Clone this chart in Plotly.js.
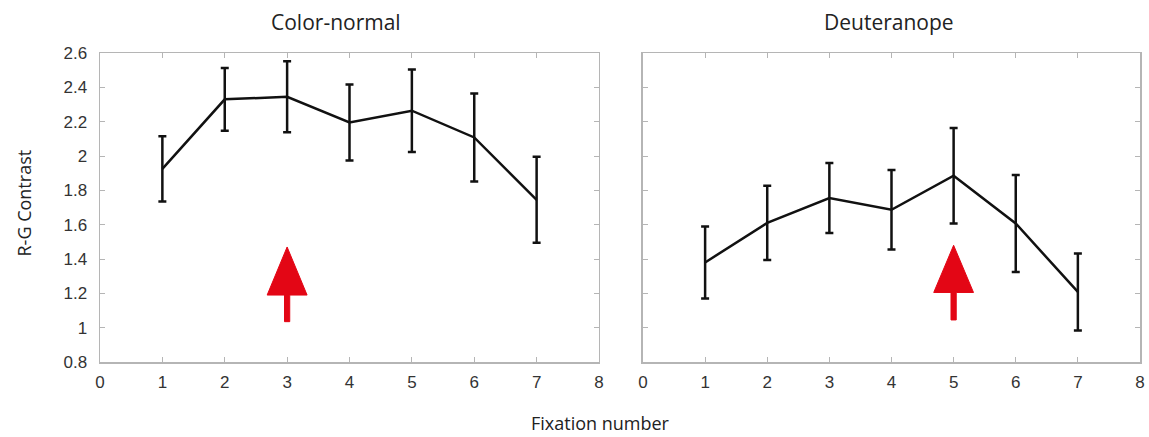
<!DOCTYPE html>
<html>
<head>
<meta charset="utf-8">
<script src="https://cdn.plot.ly/plotly-3.0.1.min.js"></script>
<style>
  html, body { margin: 0; padding: 0; background: #fff; }
  #chart { width: 1149px; height: 437px; }
</style>
</head>
<body>
<div id="chart"></div>
<script>
// Fixation index shared by both panels
const fixation = [1, 2, 3, 4, 5, 6, 7];

// Mean R-G contrast and error-bar half-lengths per fixation
const normalMean = [1.925, 2.33, 2.345, 2.195, 2.264, 2.108, 1.745];
const normalErr  = [0.19, 0.183, 0.207, 0.221, 0.24, 0.256, 0.25];
const deutMean   = [1.38, 1.61, 1.755, 1.687, 1.885, 1.607, 1.208];
const deutErr    = [0.21, 0.216, 0.204, 0.231, 0.278, 0.283, 0.224];

// Panel titles and axis labels
const panelTitles = ["Color-normal", "Deuteranope"];
const xLabel = "Fixation number";
const yLabel = "R-G Contrast";

// Tick values
const xTicks = [0, 1, 2, 3, 4, 5, 6, 7, 8];
const yTicks = [0.8, 1, 1.2, 1.4, 1.6, 1.8, 2, 2.2, 2.4, 2.6];

// Highlighted fixation in each panel (upward arrow), in data units
const arrowX    = [3, 5];
const arrowTip  = [1.47, 1.48];
const arrowNeck = [1.19, 1.205];
const arrowTail = [1.035, 1.045];
const arrowHeadHalf  = 0.32;   // half-width of the head, x units
const arrowShaftHalf = 0.042;  // half-width of the shaft, x units

const red = "#e30615";
const frameGrey = "#b5b5b5";

function seriesTrace(mean, err, xa, ya) {
  return {
    x: fixation, y: mean, xaxis: xa, yaxis: ya,
    type: "scatter", mode: "lines",
    line: { color: "#111", width: 2.5 },
    error_y: { type: "data", array: err, visible: true,
               color: "#111", thickness: 2.5, width: 4 },
    hoverinfo: "x+y", showlegend: false
  };
}

function arrowTrace(i, xa, ya) {
  const c = arrowX[i];
  const h = arrowHeadHalf, s = arrowShaftHalf;
  return {
    x: [c, c + h, c + s, c + s, c - s, c - s, c - h, c],
    y: [arrowTip[i], arrowNeck[i], arrowNeck[i], arrowTail[i],
        arrowTail[i], arrowNeck[i], arrowNeck[i], arrowTip[i]],
    xaxis: xa, yaxis: ya, type: "scatter", mode: "lines",
    fill: "toself", fillcolor: red, line: { color: red, width: 1 },
    hoverinfo: "skip", showlegend: false
  };
}

const data = [
  seriesTrace(normalMean, normalErr, "x", "y"),
  seriesTrace(deutMean, deutErr, "x2", "y2"),
  arrowTrace(0, "x", "y"),
  arrowTrace(1, "x2", "y2")
];

const tickFont = { family: "Liberation Sans, Arial, sans-serif", size: 17, color: "#333" };

function xAxis(domain, anchor) {
  return {
    domain: domain, anchor: anchor, range: [0, 8],
    tickvals: xTicks, ticks: "inside", ticklen: 5, tickwidth: 1,
    tickcolor: frameGrey, showline: true, linecolor: frameGrey, linewidth: 1.5,
    mirror: "ticks", showgrid: false, zeroline: false,
    tickfont: tickFont, ticklabelstandoff: 4, fixedrange: true
  };
}

function yAxis(anchor, showLabels) {
  return {
    anchor: anchor, range: [0.8, 2.6], domain: [0, 1],
    tickvals: yTicks, ticks: "inside", ticklen: 5, tickwidth: 1,
    tickcolor: frameGrey, showline: true, linecolor: frameGrey, linewidth: 1.5,
    mirror: "ticks", showgrid: false, zeroline: false,
    showticklabels: showLabels, tickfont: tickFont,
    ticklabelstandoff: 8, fixedrange: true
  };
}

const labelFont = { family: "Open Sans, sans-serif", size: 18, color: "#222" };
const titleFont = { family: "Open Sans, sans-serif", size: 21, color: "#222" };

const layout = {
  width: 1149, height: 437,
  margin: { l: 100, r: 9, t: 53, b: 75 },
  paper_bgcolor: "#fff", plot_bgcolor: "#fff",
  showlegend: false,
  xaxis: xAxis([0, 0.4798], "y"),
  yaxis: yAxis("x", true),
  xaxis2: xAxis([0.5221, 1], "y2"),
  yaxis2: yAxis("x2", false),
  annotations: [
    { text: panelTitles[0], xref: "x domain", yref: "paper", x: 0.5, y: 1,
      xanchor: "center", yanchor: "middle", yshift: 31, xshift: -13,
      showarrow: false, font: titleFont },
    { text: panelTitles[1], xref: "x2 domain", yref: "paper", x: 0.5, y: 1,
      xanchor: "center", yanchor: "middle", yshift: 31, xshift: -2,
      showarrow: false, font: titleFont },
    { text: xLabel, xref: "paper", yref: "paper", x: 0.4808, y: 0,
      xanchor: "center", yanchor: "middle", yshift: -61,
      showarrow: false, font: labelFont },
    { text: yLabel, xref: "paper", yref: "paper", x: 0, y: 0.5,
      xanchor: "center", yanchor: "middle", xshift: -77, yshift: 4,
      textangle: -90, showarrow: false, font: labelFont }
  ]
};

Plotly.newPlot("chart", data, layout, { displayModeBar: false, staticPlot: true });
</script>
</body>
</html>
